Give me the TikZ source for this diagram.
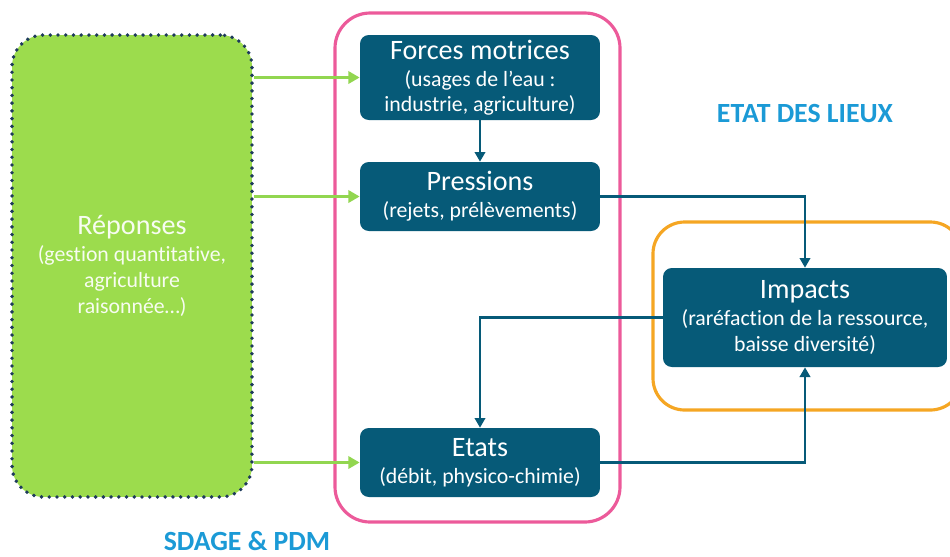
\documentclass[tikz,border=0pt]{standalone}
\usepackage{fontspec}
\setmainfont{Carlito}[Ligatures=NoCommon]
\usetikzlibrary{arrows.meta}

\definecolor{dpTeal}{HTML}{065A78}
\definecolor{dpGreen}{HTML}{9CDC4D}
\definecolor{dpArrowGreen}{HTML}{92D650}
\definecolor{dpNavy}{HTML}{1E3A5C}
\definecolor{dpPink}{HTML}{EC5A9A}
\definecolor{dpOrange}{HTML}{F5A623}
\definecolor{dpBlue}{HTML}{1B9AD6}

\newcommand{\boxtitle}[1]{{\fontsize{16}{19}\selectfont #1}}

\begin{document}
\begin{tikzpicture}[x=0.02cm,y=-0.02cm,
stage/.style = {fill=dpTeal, rounded corners=5pt, text=white, align=center,
        minimum width=4.8cm, inner xsep=2pt, inner ysep=0pt,
        font=\fontsize{12.4}{14.4}\selectfont},
flow/.style = {draw=dpTeal, line width=1.2pt,
        -{Triangle[length=5.5pt,width=6pt]}},
response/.style = {draw=dpArrowGreen, line width=1.7pt,
        -{Triangle[length=6.5pt,width=7pt]}},
frame/.style = {line width=1.8pt, rounded corners=20pt},
heading/.style = {text=dpBlue, font=\fontsize{15.8}{18}\selectfont\bfseries}]

        \useasboundingbox (0,0) rectangle (950,556);

        \node[stage, minimum height=1.7cm] (Forces) at (480,77.5)
                {\boxtitle{Forces motrices}\\[1pt](usages de l’eau :\\industrie, agriculture)};
        \node[stage, minimum height=1.38cm] (Press) at (480,196.5)
                {\boxtitle{Pressions}\\[1pt](rejets, prélèvements)};
        \node[stage, minimum height=1.38cm] (Etats) at (480,462.5)
                {\boxtitle{Etats}\\[1pt](débit, physico-chimie)};
        \node[stage, minimum width=5.68cm, minimum height=1.98cm] (Impacts) at (805,317.5)
                {\boxtitle{Impacts}\\[1pt](raréfaction de la ressource,\\baisse diversité)};
        \node[fill=dpGreen, draw=dpNavy, line width=2.2pt, line cap=round,
                dash pattern=on 0pt off 4.4pt, rounded corners=18pt,
                minimum width=4.8cm, minimum height=9.24cm, align=center,
                text=white!92!dpGreen, font=\fontsize{12.4}{14.8}\selectfont] (Rep) at (132,266)
                {\boxtitle{Réponses}\\[1pt](gestion quantitative,\\agriculture\\raisonnée…)};

        \draw[frame, draw=dpPink] (335,13) rectangle (620,522);
        \draw[frame, draw=dpOrange, rounded corners=18pt] (653,222) rectangle (962,410);

        \draw[flow] (Forces) -- (Press);
        \draw[flow] (Press.east) -| (Impacts.north);
        \draw[flow] (Impacts.west) -| (Etats.north);
        \draw[flow] (Etats.east) -| (Impacts.south);

        \draw[response] (Rep.east |- Forces.west) -- (Forces.west);
        \draw[response] (Rep.east |- Press.west) -- (Press.west);
        \draw[response] (Rep.east |- Etats.west) -- (Etats.west);

        \node[heading] (EDL) at (805,113) {ETAT DES LIEUX};
        \node[heading] (SDAGE) at (247,541) {SDAGE \& PDM};

\end{tikzpicture}
\end{document}
